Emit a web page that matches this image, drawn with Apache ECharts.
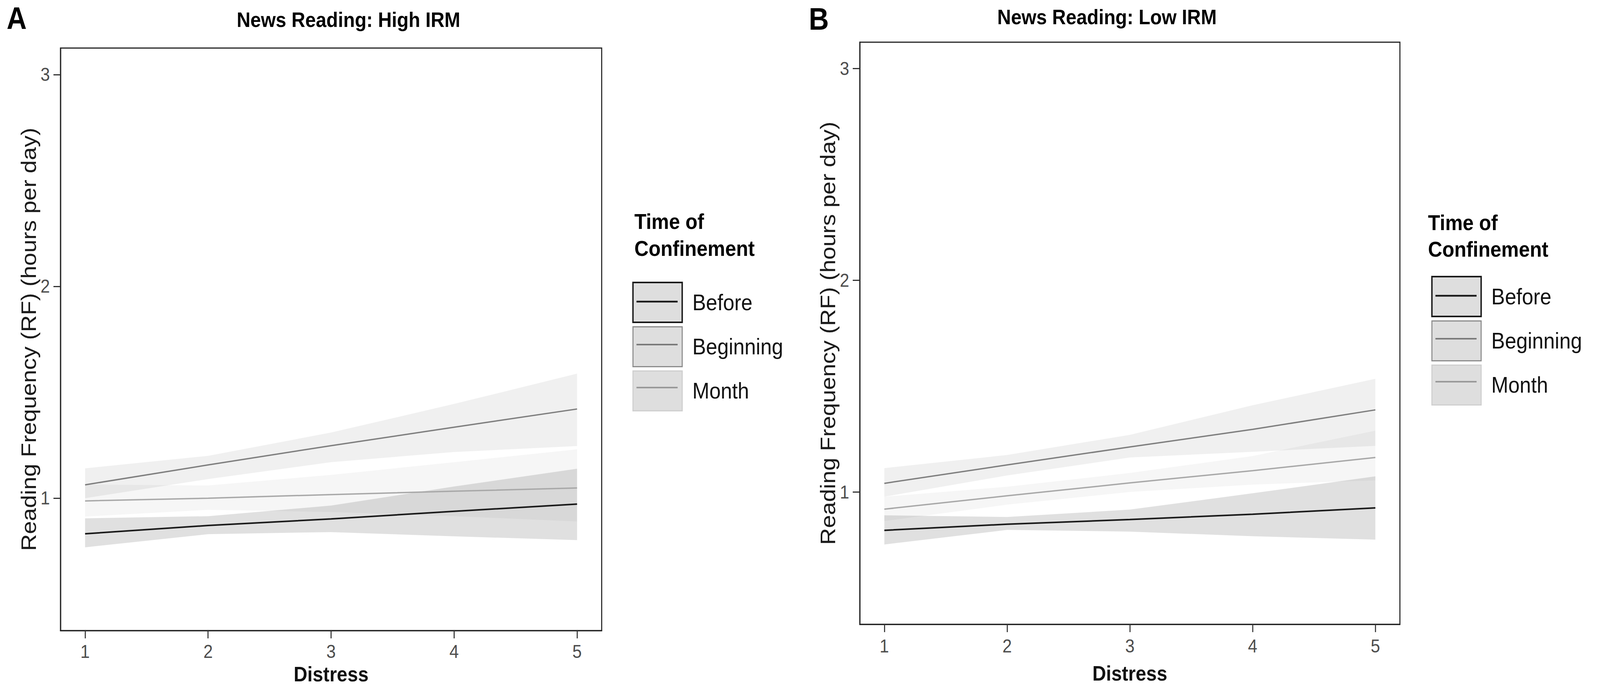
<!DOCTYPE html>
<html>
<head>
<meta charset="utf-8">
<script src="https://cdn.jsdelivr.net/npm/echarts@6/dist/echarts.min.js"></script>
<style>
  html, body { margin: 0; padding: 0; background: #fff; overflow: hidden; }
  #chart { width: 4550px; height: 1761px; transform-origin: 0 0; }
</style>
</head>
<body>
<div id="chart"></div>
<script>
// x values (Distress)
const distress = [1, 2, 3, 4, 5];
const groups = ['Before', 'Beginning', 'Month'];
const xTicks = [1, 2, 3, 4, 5];
const yTicks = [1, 2, 3];

// Panel A: High IRM
const highBefore = [0.832, 0.871, 0.902, 0.938, 0.972];
const highBeforeLo = [0.768, 0.830, 0.840, 0.820, 0.802];
const highBeforeHi = [0.905, 0.915, 0.965, 1.055, 1.139];
const highBeginning = [1.063, 1.157, 1.248, 1.335, 1.421];
const highBeginningLo = [1.000, 1.090, 1.170, 1.218, 1.246];
const highBeginningHi = [1.141, 1.200, 1.310, 1.445, 1.588];
const highMonth = [0.987, 1.000, 1.017, 1.033, 1.048];
const highMonthLo = [0.913, 0.945, 0.935, 0.915, 0.890];
const highMonthHi = [1.065, 1.060, 1.110, 1.170, 1.231];

// Panel B: Low IRM
const lowBefore = [0.819, 0.848, 0.870, 0.895, 0.925];
const lowBeforeLo = [0.752, 0.821, 0.813, 0.791, 0.775];
const lowBeforeHi = [0.890, 0.882, 0.917, 0.994, 1.074];
const lowBeginning = [1.041, 1.128, 1.213, 1.296, 1.388];
const lowBeginningLo = [0.978, 1.078, 1.163, 1.190, 1.218];
const lowBeginningHi = [1.113, 1.175, 1.270, 1.410, 1.535];
const lowMonth = [0.919, 0.982, 1.043, 1.101, 1.163];
const lowMonthLo = [0.863, 0.940, 1.000, 1.035, 1.055];
const lowMonthHi = [0.978, 1.025, 1.090, 1.170, 1.290];

const panels = [
  { title: 'News Reading: High IRM', fit: [highBefore, highBeginning, highMonth],
    lo: [highBeforeLo, highBeginningLo, highMonthLo], hi: [highBeforeHi, highBeginningHi, highMonthHi] },
  { title: 'News Reading: Low IRM', fit: [lowBefore, lowBeginning, lowMonth],
    lo: [lowBeforeLo, lowBeginningLo, lowMonthLo], hi: [lowBeforeHi, lowBeginningHi, lowMonthHi] }
];

const font = 'Liberation Sans, Arial, sans-serif';
const lineColor = ['#1a1a1a', '#7f7f7f', '#a8a8a8'];
const lineWidth = [4, 3.5, 3.5];
const bandColor = ['rgba(0,0,0,0.12)', 'rgba(0,0,0,0.06)', 'rgba(0,0,0,0.035)'];
const keyBorder = ['#1a1a1a', '#8c8c8c', '#cfcfcf'];
const keyBorderW = [4, 3, 3];
const keyLineColor = ['#1a1a1a', '#7a7a7a', '#999999'];
// thin bar used as the line glyph inside each legend key (keeps aspect)
const keyLine = ['path://M0,0H117V4.5H0Z', 'path://M0,0H117V4H0Z', 'path://M0,0H117V4H0Z'];

// the figure is laid out at 4550 x 1761 and squeezed to whatever the window gives
const box = document.getElementById('chart');
box.style.transform = 'scale(' + (window.innerWidth / 4550) + ',' + (window.innerHeight / 1761) + ')';
const chart = echarts.init(box, null, { renderer: 'svg' });

const grids = [
  { left: 172, top: 123, width: 1539, height: 1491 },
  { left: 2445, top: 108, width: 1536, height: 1490 }
];
const xNameGap = [84, 98];
const xLabelMargin = [30, 32];

function makeAxes(p) {
  const axisLine = { show: true, onZero: false, lineStyle: { color: '#222', width: 3 } };
  const x = {
    type: 'value', gridIndex: p, min: 0.8, max: 5.2,
    splitLine: { show: false },
    axisLine: axisLine,
    axisTick: { show: true, length: 20, customValues: xTicks, lineStyle: { color: '#333', width: 3 } },
    axisLabel: { customValues: xTicks, fontSize: 48, color: '#4d4d4d', fontFamily: font, margin: xLabelMargin[p] },
    name: 'Distress', nameLocation: 'middle', nameGap: xNameGap[p],
    nameTextStyle: { fontSize: 54, fontWeight: 'bold', color: '#111', fontFamily: font }
  };
  const y = {
    type: 'value', gridIndex: p, min: 0.375, max: 3.125,
    splitLine: { show: false },
    axisLine: axisLine,
    axisTick: { show: true, length: 20, customValues: yTicks, lineStyle: { color: '#333', width: 3 } },
    axisLabel: { customValues: yTicks, fontSize: 48, color: '#4d4d4d', fontFamily: font, margin: 30 },
    name: 'Reading Frequency (RF) (hours per day)', nameLocation: 'middle', nameGap: 56, nameRotate: 90,
    nameTextStyle: { fontSize: 60, color: '#1a1a1a', fontFamily: font }
  };
  return [x, y];
}

const xAxes = [], yAxes = [], series = [];
panels.forEach((panel, p) => {
  const ax = makeAxes(p);
  xAxes.push(ax[0]);
  yAxes.push(ax[1]);
  // confidence ribbons
  groups.forEach((g, k) => {
    const pts = distress.map((x, i) => [x, panel.lo[k][i], panel.hi[k][i]]);
    series.push({
      type: 'custom', name: g + ' CI', xAxisIndex: p, yAxisIndex: p, silent: true, clip: true, z: 1,
      encode: { x: 0, y: [1, 2] },
      data: pts,
      renderItem: function (params, api) {
        if (params.dataIndex !== 0) return;
        const top = pts.map(d => api.coord([d[0], d[2]]));
        const bottom = pts.map(d => api.coord([d[0], d[1]])).reverse();
        return { type: 'polygon', shape: { points: top.concat(bottom) }, style: { fill: bandColor[k] } };
      }
    });
  });
  // fitted lines
  groups.forEach((g, k) => {
    series.push({
      type: 'line', name: g, xAxisIndex: p, yAxisIndex: p, z: 3,
      symbol: 'none', color: lineColor[k],
      lineStyle: { color: lineColor[k], width: lineWidth[k] },
      data: distress.map((x, i) => [x, panel.fit[k][i]])
    });
  });
});

const legendPos = [{ left: 1798, top: 721 }, { left: 4070, top: 706 }];
const keyPitch = 110;
const legends = [];
legendPos.forEach(pos => {
  // grey key boxes with the labels
  legends.push({
    orient: 'vertical', left: pos.left, top: pos.top, padding: 0,
    itemWidth: 140, itemHeight: 102, itemGap: keyPitch - 102, selectedMode: false,
    textStyle: { fontSize: 58, color: '#111', fontFamily: font, padding: [0, 0, 0, 24] },
    data: groups.map((g, k) => ({
      name: g, icon: 'rect',
      itemStyle: { color: '#dedede', borderColor: keyBorder[k], borderWidth: keyBorderW[k] }
    }))
  });
  // line glyph on top of each key box, one small legend per key
  groups.forEach((g, k) => {
    legends.push({
      orient: 'vertical', left: pos.left + 12, top: pos.top + k * keyPitch, padding: 0, z: 5,
      itemWidth: 117, itemHeight: 102, selectedMode: false, symbolKeepAspect: true,
      formatter: () => '',
      data: [{ name: g, icon: keyLine[k], itemStyle: { color: keyLineColor[k], borderWidth: 0, opacity: 1 } }]
    });
  });
});

function label(text, x, y, size, weight, align) {
  return {
    type: 'text', x: x, y: y, silent: true,
    style: { text: text, fontSize: size, fontWeight: weight, fontFamily: font, fill: '#000',
      align: align || 'center', verticalAlign: 'middle' }
  };
}

chart.setOption({
  animation: false,
  backgroundColor: '#fff',
  grid: grids.map(g => Object.assign({ show: true, borderColor: '#222', borderWidth: 3, containLabel: false }, g)),
  xAxis: xAxes,
  yAxis: yAxes,
  legend: legends,
  series: series,
  graphic: [
    label('A', 19, 47, 79, 'bold', 'left'),
    label('B', 2300, 49, 79, 'bold', 'left'),
    label(panels[0].title, 991, 50, 54, 'bold'),
    label(panels[1].title, 3148, 43, 54, 'bold'),
    label('Time of', 1804, 567, 56, 'bold', 'left'),
    label('Confinement', 1804, 636, 56, 'bold', 'left'),
    label('Time of', 4061, 570, 56, 'bold', 'left'),
    label('Confinement', 4061, 638, 56, 'bold', 'left')
  ]
});
</script>
</body>
</html>
